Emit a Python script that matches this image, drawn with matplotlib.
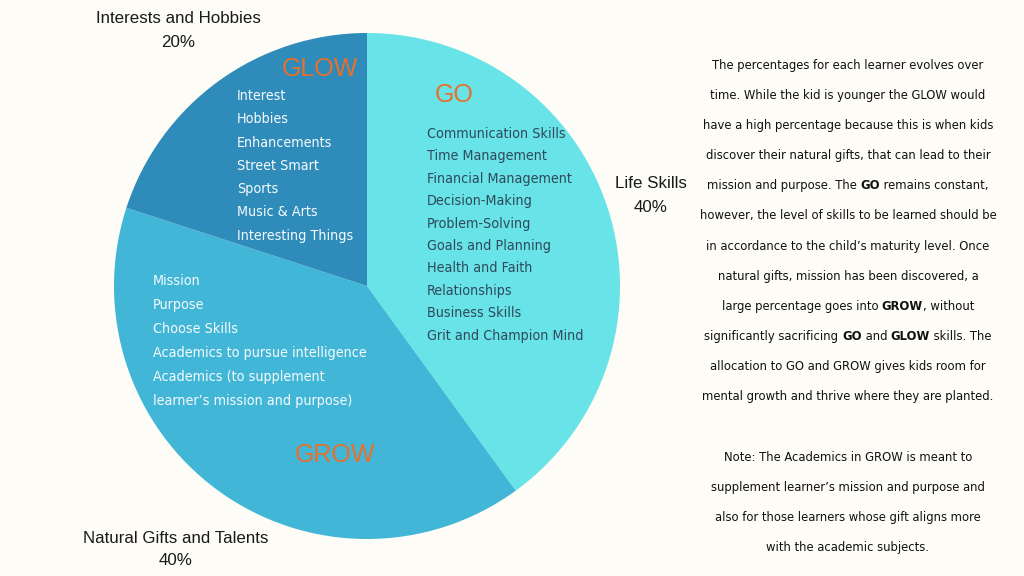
import matplotlib
matplotlib.use('Agg')
import matplotlib.pyplot as plt
from matplotlib import font_manager as fm

# --- data ---
labels = ['Life Skills', 'Natural Gifts and Talents', 'Interests and Hobbies']
shares = [40, 40, 20]
slice_colors = ['#68e3e8', '#42b6d7', '#2e8bba']
groups = ['GO', 'GROW', 'GLOW']

go_items = ['Communication Skills', 'Time Management', 'Financial Management',
            'Decision-Making', 'Problem-Solving', 'Goals and Planning',
            'Health and Faith', 'Relationships', 'Business Skills',
            'Grit and Champion Mind']
grow_items = ['Mission', 'Purpose', 'Choose Skills',
              'Academics to pursue intelligence', 'Academics (to supplement',
              'learner\u2019s mission and purpose)']
glow_items = ['Interest', 'Hobbies', 'Enhancements', 'Street Smart', 'Sports',
              'Music & Arts', 'Interesting Things']

# ** marks bold words
para_lines = [
    'The percentages for each learner evolves over',
    'time. While the kid is younger the GLOW would',
    'have a high percentage because this is when kids',
    'discover their natural gifts, that can lead to their',
    'mission and purpose. The **GO** remains constant,',
    'however, the level of skills to be learned should be',
    'in accordance to the child\u2019s maturity level. Once',
    'natural gifts, mission has been discovered, a',
    'large percentage goes into **GROW**, without',
    'significantly sacrificing **GO** and **GLOW** skills. The',
    'allocation to GO and GROW gives kids room for',
    'mental growth and thrive where they are planted.',
]
note_lines = [
    'Note: The Academics in GROW is meant to',
    'supplement learner\u2019s mission and purpose and',
    'also for those learners whose gift aligns more',
    'with the academic subjects.',
]

W, H = 1024, 576
BG = '#fdfcf6'
ORANGE = '#e8702a'

# pick the narrowest face we have for the text
fonts = fm.fontManager.ttflist
names = {f.name for f in fonts}
if 'Liberation Sans Narrow' in names:
    NARROW, STRETCH = 'Liberation Sans Narrow', 'normal'
elif any(f.name == 'DejaVu Sans' and f.stretch == 'condensed' for f in fonts):
    NARROW, STRETCH = 'DejaVu Sans', 'condensed'
else:
    NARROW, STRETCH = 'Liberation Sans', 'normal'
LABEL_FONT = 'Liberation Sans'


def Y(y):
    # pixel row (top-down) -> data y
    return H - y


fig = plt.figure(figsize=(W / 100, H / 100), dpi=100, facecolor=BG)
ax = fig.add_axes([0, 0, 1, 1])
cx, cy, r = 367, Y(286), 253
ax.pie(shares, colors=slice_colors, startangle=90, counterclock=False,
       center=(cx, cy), radius=r, frame=True)
ax.set_xlim(0, W)
ax.set_ylim(0, H)
ax.set_aspect('equal')
ax.axis('off')

renderer = fig.canvas.get_renderer()


def text_w(s, size, family, stretch='normal', weight='normal'):
    t = ax.text(0, 0, s, family=family, fontsize=size, fontstretch=stretch,
                fontweight=weight)
    w = t.get_window_extent(renderer).width
    t.remove()
    return w


# outer labels
lab_kw = dict(family=LABEL_FONT, fontsize=12.2, color='#1a1a1a', ha='center', va='baseline')
outer_pos = [(651, 188, 212), (176, 543, 565), (178, 23, 47)]
for name, val, (x, y1, y2) in zip(labels, shares, outer_pos):
    ax.text(x, Y(y1), name, **lab_kw)
    ax.text(x, Y(y2), f'{val}%', **lab_kw)

# group headings
head_pos = {'GO': (454, 102), 'GROW': (335, 462), 'GLOW': (320, 76)}
for g in groups:
    x, y = head_pos[g]
    ax.text(x, Y(y), g, family='Liberation Sans', fontsize=18, color=ORANGE,
            ha='center', va='baseline')

# item lists
list_size = 10.3
list_kw = dict(family=NARROW, fontstretch=STRETCH, fontsize=list_size,
               va='baseline', ha='left')
for i, s in enumerate(go_items):
    ax.text(427, Y(138 + i * 22.4), s, color='#2f4a5c', **list_kw)
for i, s in enumerate(grow_items):
    ax.text(153, Y(285 + i * 24.0), s, color='#f4fbfd', **list_kw)
for i, s in enumerate(glow_items):
    ax.text(237, Y(100 + i * 23.3), s, color='#f4fbfd', **list_kw)

# right-hand paragraph: fit the widest line to the column, centre each line
col_width = 296
probe = 'however, the level of skills to be learned should be'
para_size = 10 * col_width / text_w(probe, 10, NARROW, STRETCH)


def seg_width(s, weight):
    # bars keep leading / trailing spaces in the measure
    return (text_w('|' + s + '|', para_size, NARROW, STRETCH, weight)
            - text_w('||', para_size, NARROW, STRETCH, weight))


def centered_line(line, x_mid, y):
    parts = line.split('**')
    segs = [(p, 'bold' if i % 2 else 'normal') for i, p in enumerate(parts) if p]
    widths = [seg_width(s, wt) for s, wt in segs]
    x = x_mid - sum(widths) / 2
    for (s, wt), w in zip(segs, widths):
        ax.text(x, Y(y), s, family=NARROW, fontstretch=STRETCH, fontsize=para_size,
                fontweight=wt, color='#111111', ha='left', va='baseline')
        x += w


for i, line in enumerate(para_lines):
    centered_line(line, 848, 69 + i * 30.1)
for i, line in enumerate(note_lines):
    centered_line(line, 848, 461 + i * 30.1)

fig.savefig('out.png', dpi=100, facecolor=BG)
